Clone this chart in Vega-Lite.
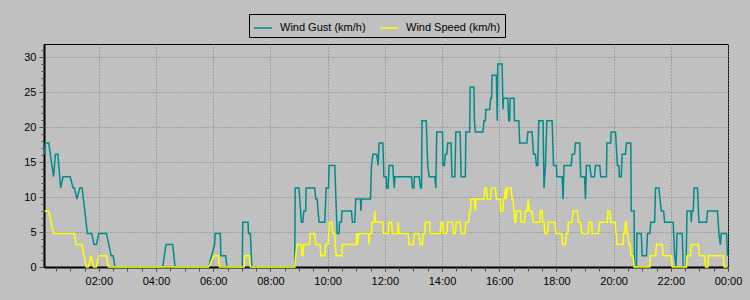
{
"$schema":"https://vega.github.io/schema/vega-lite/v6.json",
"width":684,"height":223,
"autosize":{"type":"none"},
"padding":{"left":44,"top":44,"right":22,"bottom":33},
"background":"#C0C0C0",
"datasets":{
"gust":[{"m":6,"v":16.1},{"m":8,"v":17.7},{"m":15,"v":17.7},{"m":25,"v":12.9},{"m":29,"v":16.1},{"m":34,"v":16.1},{"m":40,"v":11.3},{"m":45,"v":12.9},{"m":60,"v":12.9},{"m":66,"v":11.3},{"m":69,"v":11.3},{"m":74,"v":9.7},{"m":80,"v":11.3},{"m":85,"v":11.3},{"m":96,"v":4.8},{"m":105,"v":4.8},{"m":110,"v":3.2},{"m":115,"v":3.2},{"m":120,"v":4.8},{"m":136,"v":4.8},{"m":146,"v":1.6},{"m":150,"v":1.6},{"m":154,"v":0},{"m":254,"v":0},{"m":261,"v":3.2},{"m":275,"v":3.2},{"m":280,"v":0},{"m":350,"v":0},{"m":363,"v":3.2},{"m":364,"v":4.8},{"m":375,"v":4.8},{"m":376,"v":1.6},{"m":386,"v":1.6},{"m":389,"v":0},{"m":421,"v":0},{"m":422,"v":6.4},{"m":433,"v":6.4},{"m":434,"v":4.8},{"m":438,"v":4.8},{"m":441,"v":0},{"m":531,"v":0},{"m":532,"v":11.3},{"m":540,"v":11.3},{"m":545,"v":6.4},{"m":548,"v":6.4},{"m":550,"v":8.0},{"m":554,"v":8.0},{"m":555,"v":11.3},{"m":573,"v":11.3},{"m":575,"v":9.7},{"m":578,"v":9.7},{"m":580,"v":8.0},{"m":582,"v":6.4},{"m":594,"v":6.4},{"m":597,"v":11.3},{"m":602,"v":11.3},{"m":603,"v":14.5},{"m":615,"v":14.5},{"m":620,"v":4.8},{"m":624,"v":4.8},{"m":625,"v":6.4},{"m":629,"v":6.4},{"m":630,"v":8.0},{"m":650,"v":8.0},{"m":652,"v":6.4},{"m":657,"v":6.4},{"m":659,"v":9.7},{"m":669,"v":9.7},{"m":670,"v":8.0},{"m":671,"v":9.7},{"m":690,"v":9.7},{"m":692,"v":14.5},{"m":695,"v":16.1},{"m":703,"v":16.1},{"m":706,"v":14.5},{"m":708,"v":17.7},{"m":716,"v":17.7},{"m":718,"v":12.9},{"m":723,"v":12.9},{"m":724,"v":11.3},{"m":727,"v":11.3},{"m":729,"v":14.5},{"m":737,"v":14.5},{"m":738,"v":12.9},{"m":740,"v":11.3},{"m":741,"v":12.9},{"m":776,"v":12.9},{"m":778,"v":11.3},{"m":781,"v":11.3},{"m":782,"v":12.9},{"m":792,"v":12.9},{"m":795,"v":11.3},{"m":797,"v":11.3},{"m":798,"v":20.9},{"m":807,"v":20.9},{"m":810,"v":14.5},{"m":813,"v":12.9},{"m":825,"v":12.9},{"m":827,"v":11.3},{"m":829,"v":19.3},{"m":841,"v":19.3},{"m":842,"v":14.5},{"m":845,"v":14.5},{"m":847,"v":16.1},{"m":850,"v":16.1},{"m":852,"v":17.7},{"m":859,"v":17.7},{"m":861,"v":12.9},{"m":867,"v":12.9},{"m":869,"v":19.3},{"m":878,"v":19.3},{"m":880,"v":12.9},{"m":889,"v":12.9},{"m":890,"v":19.3},{"m":898,"v":19.3},{"m":899,"v":25.7},{"m":907,"v":25.7},{"m":908,"v":20.9},{"m":910,"v":19.3},{"m":926,"v":19.3},{"m":928,"v":20.9},{"m":931,"v":20.9},{"m":932,"v":22.5},{"m":940,"v":22.5},{"m":942,"v":24.1},{"m":944,"v":24.1},{"m":945,"v":27.4},{"m":954,"v":27.4},{"m":956,"v":20.9},{"m":957,"v":29.0},{"m":966,"v":29.0},{"m":968,"v":22.5},{"m":969,"v":24.1},{"m":978,"v":24.1},{"m":980,"v":20.9},{"m":982,"v":20.9},{"m":983,"v":24.1},{"m":991,"v":24.1},{"m":992,"v":20.9},{"m":1001,"v":20.9},{"m":1003,"v":17.7},{"m":1018,"v":17.7},{"m":1020,"v":19.3},{"m":1029,"v":19.3},{"m":1032,"v":16.1},{"m":1036,"v":16.1},{"m":1038,"v":14.5},{"m":1041,"v":14.5},{"m":1043,"v":20.9},{"m":1052,"v":20.9},{"m":1054,"v":11.3},{"m":1057,"v":14.5},{"m":1060,"v":20.9},{"m":1071,"v":20.9},{"m":1074,"v":14.5},{"m":1080,"v":14.5},{"m":1081,"v":12.9},{"m":1092,"v":12.9},{"m":1094,"v":9.7},{"m":1096,"v":14.5},{"m":1111,"v":14.5},{"m":1113,"v":16.1},{"m":1118,"v":16.1},{"m":1120,"v":17.7},{"m":1129,"v":17.7},{"m":1131,"v":12.9},{"m":1139,"v":12.9},{"m":1141,"v":9.7},{"m":1143,"v":14.5},{"m":1150,"v":14.5},{"m":1153,"v":12.9},{"m":1160,"v":12.9},{"m":1162,"v":14.5},{"m":1171,"v":14.5},{"m":1173,"v":12.9},{"m":1185,"v":12.9},{"m":1186,"v":17.7},{"m":1194,"v":17.7},{"m":1195,"v":19.3},{"m":1204,"v":19.3},{"m":1208,"v":14.5},{"m":1211,"v":14.5},{"m":1212,"v":12.9},{"m":1216,"v":12.9},{"m":1218,"v":16.1},{"m":1225,"v":16.1},{"m":1227,"v":17.7},{"m":1236,"v":17.7},{"m":1237,"v":8.0},{"m":1243,"v":8.0},{"m":1244,"v":0},{"m":1248,"v":0},{"m":1249,"v":4.8},{"m":1258,"v":4.8},{"m":1260,"v":1.6},{"m":1269,"v":1.6},{"m":1271,"v":4.8},{"m":1276,"v":4.8},{"m":1278,"v":6.4},{"m":1286,"v":6.4},{"m":1288,"v":11.3},{"m":1295,"v":11.3},{"m":1300,"v":8.0},{"m":1305,"v":8.0},{"m":1307,"v":6.4},{"m":1325,"v":6.4},{"m":1328,"v":1.6},{"m":1331,"v":0},{"m":1333,"v":4.8},{"m":1344,"v":4.8},{"m":1346,"v":0},{"m":1352,"v":0},{"m":1354,"v":8.0},{"m":1362,"v":8.0},{"m":1363,"v":6.4},{"m":1364,"v":8.0},{"m":1367,"v":8.0},{"m":1369,"v":11.3},{"m":1376,"v":11.3},{"m":1379,"v":6.4},{"m":1395,"v":6.4},{"m":1397,"v":8.0},{"m":1418,"v":8.0},{"m":1421,"v":4.8},{"m":1424,"v":3.2},{"m":1426,"v":4.8},{"m":1437,"v":4.8},{"m":1439,"v":1.6}],
"speed":[{"m":6,"v":8.0},{"m":15,"v":8.0},{"m":25,"v":4.8},{"m":69,"v":4.8},{"m":72,"v":3.2},{"m":85,"v":3.2},{"m":89,"v":1.6},{"m":94,"v":0},{"m":98,"v":0},{"m":104,"v":1.6},{"m":109,"v":0},{"m":115,"v":0},{"m":120,"v":1.6},{"m":136,"v":1.6},{"m":140,"v":0},{"m":350,"v":0},{"m":362,"v":1.6},{"m":371,"v":1.6},{"m":373,"v":0},{"m":425,"v":0},{"m":426,"v":1.6},{"m":436,"v":1.6},{"m":438,"v":0},{"m":531,"v":0},{"m":533,"v":1.6},{"m":536,"v":3.2},{"m":545,"v":3.2},{"m":546,"v":1.6},{"m":548,"v":1.6},{"m":550,"v":3.2},{"m":562,"v":3.2},{"m":563,"v":4.8},{"m":573,"v":4.8},{"m":575,"v":3.2},{"m":584,"v":3.2},{"m":586,"v":1.6},{"m":594,"v":1.6},{"m":596,"v":3.2},{"m":601,"v":3.2},{"m":604,"v":6.4},{"m":609,"v":6.4},{"m":611,"v":4.8},{"m":615,"v":4.8},{"m":616,"v":3.2},{"m":618,"v":1.6},{"m":630,"v":1.6},{"m":631,"v":3.2},{"m":660,"v":3.2},{"m":661,"v":4.8},{"m":663,"v":3.2},{"m":665,"v":4.8},{"m":686,"v":4.8},{"m":687,"v":3.2},{"m":688,"v":4.8},{"m":692,"v":4.8},{"m":693,"v":6.4},{"m":698,"v":6.4},{"m":699,"v":8.0},{"m":700,"v":6.4},{"m":716,"v":6.4},{"m":717,"v":4.8},{"m":727,"v":4.8},{"m":729,"v":6.4},{"m":734,"v":6.4},{"m":736,"v":4.8},{"m":747,"v":4.8},{"m":748,"v":6.4},{"m":750,"v":4.8},{"m":769,"v":4.8},{"m":771,"v":3.2},{"m":780,"v":3.2},{"m":782,"v":4.8},{"m":792,"v":4.8},{"m":794,"v":3.2},{"m":799,"v":3.2},{"m":800,"v":4.8},{"m":804,"v":4.8},{"m":805,"v":6.4},{"m":814,"v":6.4},{"m":815,"v":4.8},{"m":836,"v":4.8},{"m":838,"v":6.4},{"m":841,"v":6.4},{"m":843,"v":4.8},{"m":850,"v":4.8},{"m":852,"v":6.4},{"m":862,"v":6.4},{"m":864,"v":4.8},{"m":868,"v":4.8},{"m":870,"v":6.4},{"m":878,"v":6.4},{"m":880,"v":4.8},{"m":888,"v":4.8},{"m":890,"v":6.4},{"m":896,"v":6.4},{"m":898,"v":8.0},{"m":900,"v":8.0},{"m":901,"v":9.7},{"m":908,"v":9.7},{"m":910,"v":8.0},{"m":911,"v":9.7},{"m":928,"v":9.7},{"m":930,"v":11.3},{"m":933,"v":11.3},{"m":935,"v":9.7},{"m":942,"v":9.7},{"m":944,"v":11.3},{"m":952,"v":11.3},{"m":954,"v":9.7},{"m":962,"v":9.7},{"m":963,"v":8.0},{"m":968,"v":8.0},{"m":969,"v":9.7},{"m":971,"v":9.7},{"m":973,"v":11.3},{"m":975,"v":9.7},{"m":977,"v":11.3},{"m":985,"v":11.3},{"m":987,"v":9.7},{"m":989,"v":9.7},{"m":991,"v":8.0},{"m":993,"v":6.4},{"m":995,"v":6.4},{"m":996,"v":8.0},{"m":1005,"v":8.0},{"m":1006,"v":6.4},{"m":1013,"v":6.4},{"m":1015,"v":8.0},{"m":1019,"v":8.0},{"m":1021,"v":9.7},{"m":1023,"v":8.0},{"m":1029,"v":8.0},{"m":1031,"v":6.4},{"m":1045,"v":6.4},{"m":1046,"v":8.0},{"m":1050,"v":8.0},{"m":1051,"v":6.4},{"m":1054,"v":6.4},{"m":1056,"v":4.8},{"m":1061,"v":4.8},{"m":1063,"v":6.4},{"m":1077,"v":6.4},{"m":1079,"v":4.8},{"m":1091,"v":4.8},{"m":1093,"v":3.2},{"m":1099,"v":3.2},{"m":1101,"v":4.8},{"m":1104,"v":4.8},{"m":1105,"v":6.4},{"m":1113,"v":6.4},{"m":1115,"v":8.0},{"m":1124,"v":8.0},{"m":1126,"v":6.4},{"m":1131,"v":6.4},{"m":1133,"v":4.8},{"m":1147,"v":4.8},{"m":1148,"v":6.4},{"m":1154,"v":6.4},{"m":1155,"v":4.8},{"m":1168,"v":4.8},{"m":1171,"v":6.4},{"m":1187,"v":6.4},{"m":1188,"v":8.0},{"m":1192,"v":8.0},{"m":1194,"v":6.4},{"m":1203,"v":6.4},{"m":1205,"v":4.8},{"m":1206,"v":4.8},{"m":1207,"v":3.2},{"m":1220,"v":3.2},{"m":1221,"v":4.8},{"m":1223,"v":4.8},{"m":1225,"v":6.4},{"m":1227,"v":6.4},{"m":1228,"v":4.8},{"m":1230,"v":4.8},{"m":1232,"v":3.2},{"m":1235,"v":3.2},{"m":1236,"v":1.6},{"m":1241,"v":1.6},{"m":1243,"v":0},{"m":1276,"v":0},{"m":1277,"v":1.6},{"m":1288,"v":1.6},{"m":1290,"v":3.2},{"m":1302,"v":3.2},{"m":1304,"v":1.6},{"m":1321,"v":1.6},{"m":1323,"v":0},{"m":1353,"v":0},{"m":1354,"v":1.6},{"m":1361,"v":1.6},{"m":1363,"v":3.2},{"m":1378,"v":3.2},{"m":1380,"v":1.6},{"m":1391,"v":1.6},{"m":1393,"v":0},{"m":1398,"v":0},{"m":1399,"v":1.6},{"m":1430,"v":1.6},{"m":1432,"v":0},{"m":1439,"v":0}]
},
"layer":[
{"data":{"name":"gust"},
 "mark":{"type":"line","strokeWidth":1.5},
 "encoding":{
  "x":{"field":"m","type":"quantitative","scale":{"domain":[5,1440],"nice":false,"zero":false},
       "axis":{"orient":"bottom","values":[120,240,360,480,600,720,840,960,1080,1200,1320,1440],"labelExpr":"(floor(datum.value/60)%24<10?'0':'')+(floor(datum.value/60)%24)+':00'","labelFlush":false,"labelOverlap":false,"labelBound":false,"tickSize":4,"labelPadding":4,"domainColor":"black","domainWidth":2,"grid":true,"gridColor":"#808080","gridDash":[1,2],"title":null}},
  "y":{"field":"v","type":"quantitative","scale":{"domain":[0,31.86],"nice":false},
       "axis":{"orient":"left","values":[0,5,10,15,20,25,30],"tickSize":5,"labelPadding":3,"domainColor":"black","domainWidth":2,"grid":true,"gridColor":"#808080","gridDash":[1,2],"title":null}},
  "color":{"datum":"Wind Gust (km/h)","type":"nominal",
           "scale":{"domain":["Wind Gust (km/h)","Wind Speed (km/h)"],"range":["#008C8C","#FFFF00"]},
           "legend":{"orient":"none","legendX":205,"legendY":-30,"direction":"horizontal","title":null}}
 }},
{"data":{"name":"speed"},
 "mark":{"type":"line","strokeWidth":1.5},
 "encoding":{
  "x":{"field":"m","type":"quantitative",
       "axis":{"orient":"bottom","values":[30,60,90,120,150,180,210,240,270,300,330,360,390,420,450,480,510,540,570,600,630,660,690,720,750,780,810,840,870,900,930,960,990,1020,1050,1080,1110,1140,1170,1200,1230,1260,1290,1320,1350,1380,1410,1440],"labels":false,"domain":false,"grid":false,"tickSize":4,"title":null}},
  "y":{"field":"v","type":"quantitative",
       "axis":{"orient":"left","values":[0,1,2,3,4,5,6,7,8,9,10,11,12,13,14,15,16,17,18,19,20,21,22,23,24,25,26,27,28,29,30,31],"labels":false,"domain":false,"grid":false,"tickSize":3,"title":null}},
  "color":{"datum":"Wind Speed (km/h)","type":"nominal"}
 }}
],
"resolve":{"axis":{"x":"independent","y":"independent"}},
"config":{
 "view":{"stroke":"black","strokeWidth":1,"fill":"#C0C0C0"},
 "axis":{"labelFont":"Liberation Sans","labelFontSize":11,"labelColor":"black","tickColor":"#505050"},
 "legend":{"symbolType":"stroke","symbolSize":324,"symbolStrokeWidth":1.5,"labelFont":"Liberation Sans","labelFontSize":11,"labelColor":"black","labelOffset":7,"columnPadding":11,"padding":4,"strokeColor":"black","fillColor":"#C0C0C0"}
}
}
